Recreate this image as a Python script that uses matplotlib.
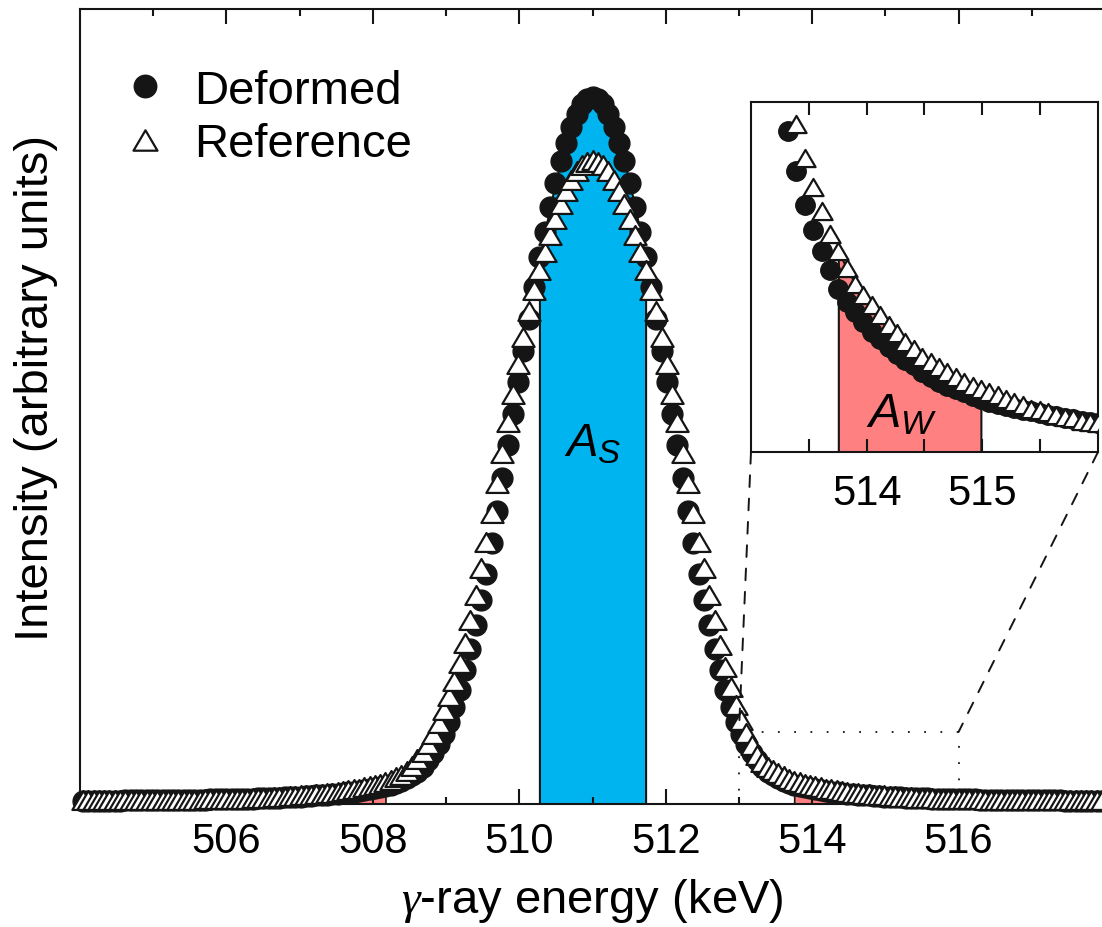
import numpy as np
import matplotlib
matplotlib.use('Agg')
import matplotlib.pyplot as plt
from matplotlib.path import Path
from matplotlib.patches import Rectangle, ConnectionPatch

plt.rcParams['font.family'] = ['Liberation Sans', 'DejaVu Sans']
plt.rcParams['mathtext.fontset'] = 'custom'
plt.rcParams['mathtext.rm'] = 'Liberation Sans'
plt.rcParams['mathtext.it'] = 'Liberation Sans:italic'
plt.rcParams['mathtext.sf'] = 'Liberation Serif:italic'

# ======================== DATA ========================
channel_start = 504.04   # keV, energy of the first channel
channel_width = 0.0725   # keV per channel

# deformed sample, intensity per channel (arb. units)
deformed = [
    0.0041, 0.0041, 0.0042, 0.0042, 0.0043, 0.0043, 0.0044, 0.0044, 0.0045, 0.0045,
    0.0046, 0.0046, 0.0047, 0.0048, 0.0048, 0.0049, 0.0050, 0.0050, 0.0051, 0.0052,
    0.0053, 0.0054, 0.0055, 0.0056, 0.0057, 0.0058, 0.0059, 0.0060, 0.0061, 0.0063,
    0.0065, 0.0067, 0.0069, 0.0071, 0.0074, 0.0076, 0.0078, 0.0081, 0.0083, 0.0086,
    0.0088, 0.0093, 0.0097, 0.0102, 0.0107, 0.0111, 0.0116, 0.0123, 0.0130, 0.0139,
    0.0146, 0.0155, 0.0164, 0.0175, 0.0185, 0.0198, 0.0212, 0.0226, 0.0244, 0.0269,
    0.0295, 0.0324, 0.0359, 0.0405, 0.046, 0.055, 0.064, 0.075, 0.088, 0.103,
    0.122, 0.144, 0.168, 0.195, 0.225, 0.256, 0.289, 0.328, 0.368, 0.410,
    0.452, 0.491, 0.531, 0.570, 0.610, 0.650, 0.688, 0.719, 0.751, 0.781,
    0.809, 0.832, 0.852, 0.868, 0.880, 0.887,
    0.889,
    0.887, 0.880, 0.868, 0.852, 0.832, 0.809, 0.781, 0.751, 0.719,
    0.688, 0.650, 0.610, 0.570, 0.531, 0.491, 0.452, 0.410, 0.368, 0.328,
    0.289, 0.256, 0.225, 0.195, 0.168, 0.144, 0.122, 0.103, 0.088, 0.075,
    0.064, 0.055, 0.046, 0.0405, 0.0359, 0.0324, 0.0295, 0.0269, 0.0244, 0.0226,
    0.0212, 0.0198, 0.0185, 0.0175, 0.0164, 0.0155, 0.0146, 0.0139, 0.0130, 0.0123,
    0.0116, 0.0111, 0.0107, 0.0102, 0.0097, 0.0093, 0.0088, 0.0086, 0.0083, 0.0081,
    0.0078, 0.0076, 0.0074, 0.0071, 0.0069, 0.0067, 0.0065, 0.0063, 0.0061, 0.0060,
    0.0059, 0.0058, 0.0057, 0.0056, 0.0055, 0.0054, 0.0053, 0.0052, 0.0051, 0.0050,
    0.0050, 0.0049, 0.0048, 0.0048, 0.0047, 0.0046, 0.0046, 0.0045, 0.0045, 0.0044,
    0.0044, 0.0043, 0.0043, 0.0042, 0.0042, 0.0041, 0.0041]

# reference sample, intensity per channel (arb. units)
reference = [
    0.0047, 0.0047, 0.0047, 0.0048, 0.0048, 0.0048, 0.0049, 0.0049, 0.0050, 0.0050,
    0.0050, 0.0051, 0.0051, 0.0052, 0.0052, 0.0053, 0.0053, 0.0054, 0.0054, 0.0055,
    0.0055, 0.0056, 0.0056, 0.0057, 0.0058, 0.0058, 0.0059, 0.0060, 0.0061, 0.0063,
    0.0066, 0.0068, 0.0071, 0.0075, 0.0077, 0.0079, 0.0084, 0.0088, 0.0093, 0.0098,
    0.0102, 0.0107, 0.0111, 0.0116, 0.0123, 0.0130, 0.0137, 0.0143, 0.0150, 0.0161,
    0.0171, 0.0183, 0.0194, 0.0208, 0.0221, 0.0235, 0.0253, 0.0276, 0.0302, 0.0334,
    0.0370, 0.042, 0.048, 0.056, 0.065, 0.076, 0.088, 0.102, 0.118, 0.136,
    0.155, 0.177, 0.202, 0.232, 0.263, 0.297, 0.330, 0.366, 0.404, 0.442,
    0.480, 0.516, 0.553, 0.588, 0.620, 0.647, 0.672, 0.694, 0.716, 0.736,
    0.755, 0.771, 0.785, 0.796, 0.804, 0.808,
    0.810,
    0.808, 0.804, 0.796, 0.785, 0.771, 0.755, 0.736, 0.716, 0.694,
    0.672, 0.647, 0.620, 0.588, 0.553, 0.516, 0.480, 0.442, 0.404, 0.366,
    0.330, 0.297, 0.263, 0.231, 0.200, 0.172, 0.147, 0.125, 0.106, 0.089,
    0.074, 0.062, 0.053, 0.0470, 0.0423, 0.0384, 0.0350, 0.0319, 0.0295, 0.0272,
    0.0251, 0.0235, 0.0221, 0.0208, 0.0194, 0.0183, 0.0171, 0.0161, 0.0150, 0.0143,
    0.0137, 0.0130, 0.0123, 0.0116, 0.0111, 0.0107, 0.0102, 0.0098, 0.0093, 0.0088,
    0.0084, 0.0079, 0.0077, 0.0075, 0.0071, 0.0068, 0.0066, 0.0063, 0.0061, 0.0060,
    0.0059, 0.0058, 0.0058, 0.0057, 0.0056, 0.0056, 0.0055, 0.0055, 0.0054, 0.0054,
    0.0053, 0.0053, 0.0052, 0.0052, 0.0051, 0.0051, 0.0050, 0.0050, 0.0050, 0.0049,
    0.0049, 0.0048, 0.0048, 0.0048, 0.0047, 0.0047, 0.0047]

s_window = [510.27, 511.73]                      # A_S region (keV)
w_windows = [[507.0, 508.18], [513.75, 515.0]]   # A_W regions (keV)
zoom_box = [513.0, 516.0, 0.0906]                # x0, x1, top of dotted box

main_xticks = [506, 508, 510, 512, 514, 516]
main_minor = [505, 507, 509, 511, 513, 515, 517]
inset_xticks = [513.5, 514, 514.5, 515, 515.5]
inset_xlabels = ['', '514', '', '515', '']

deformed = np.array(deformed)
reference = np.array(reference)
energy = channel_start + channel_width * np.arange(len(deformed))

blue = '#00b5ef'
pink = '#ff8080'
ink = '#151515'
tri = Path([(0, 0.85), (-1, -0.85), (1, -0.85), (0, 0.85)], closed=True)

# ======================== MAIN AXES ========================
fig = plt.figure(figsize=(11.02, 9.28), dpi=100)
ax = fig.add_axes([80/1102, 123/928, 1025/1102, 795/928])
ax.set_xlim(504, 518)
ax.set_ylim(0, 1)

m = (energy >= s_window[0]) & (energy <= s_window[1])
ax.fill_between(energy[m], 0, deformed[m], facecolor=blue, edgecolor=ink, lw=1.5, zorder=1)
for lo, hi in w_windows:
    m = (energy >= lo) & (energy <= hi)
    ax.fill_between(energy[m], 0, reference[m], facecolor=pink, edgecolor=ink, lw=1.2, zorder=1)

ax.add_patch(Rectangle((zoom_box[0], 0), zoom_box[1] - zoom_box[0], zoom_box[2],
                       fill=False, ec=ink, lw=1.3, ls=(0, (1, 8)), zorder=2, clip_on=False))

ax.plot(energy, deformed, ls='none', marker='o', ms=15, mfc=ink, mec=ink, mew=1,
        clip_on=False, zorder=3, label='Deformed')
ax.plot(energy, reference, ls='none', marker=tri, ms=16, mfc='white', mec=ink, mew=1.6,
        clip_on=False, zorder=4, label='Reference')

ax.text(511.0, 0.438, r'$A_S$', fontsize=34, ha='center', va='baseline', zorder=5)

ax.legend(loc='upper left', bbox_to_anchor=(0.040, 0.925), frameon=False, fontsize=34,
          handlelength=1.0, handletextpad=0.55, labelspacing=0.2, borderpad=0,
          borderaxespad=0, markerscale=1.08)

ax.set_xticks(main_xticks)
ax.set_xticks(main_minor, minor=True)
ax.tick_params(axis='x', which='both', direction='in', top=True, width=1.5,
               labelsize=30, pad=12, color=ink)
ax.tick_params(axis='x', which='major', length=11)
ax.tick_params(axis='x', which='minor', length=5)
ax.set_yticks([])
for s in ax.spines.values():
    s.set_linewidth(1.5)
    s.set_color(ink)

ax.set_xlabel(r'$\mathsf{\gamma}$-ray energy (keV)', fontsize=34, labelpad=11)
ax.set_ylabel('Intensity (arbitrary units)', fontsize=34)
ax.yaxis.set_label_coords(-0.021, 0.525)

# ======================== INSET ========================
axins = fig.add_axes([751/1102, 475/928, 347/1102, 350/928])
axins.set_xlim(zoom_box[0], zoom_box[1])
axins.set_ylim(0.002, 0.050)
lo, hi = w_windows[1]
m = (energy >= lo) & (energy <= hi)
axins.fill_between(energy[m], 0, reference[m], facecolor=pink, edgecolor=ink, lw=1.5, zorder=1)
axins.plot(energy, deformed, ls='none', marker='o', ms=14, mfc=ink, mec=ink, mew=1, zorder=3)
axins.plot(energy, reference, ls='none', marker=tri, ms=14.5, mfc='white', mec=ink, mew=1.6, zorder=4)
axins.text(514.30, 0.0056, r'$A_W$', fontsize=35, ha='center', va='baseline', zorder=5)

axins.set_xticks(inset_xticks)
axins.set_xticklabels(inset_xlabels)
axins.tick_params(axis='x', direction='in', top=True, length=9.5, width=1.5,
                  labelsize=30, pad=15, color=ink)
axins.set_yticks([])
for s in axins.spines.values():
    s.set_linewidth(1.5)
    s.set_color(ink)

# dashed lines joining the inset to the dotted box
for xa, xb in [(0, zoom_box[0]), (1, zoom_box[1])]:
    con = ConnectionPatch(xyA=(xa, 0), coordsA=axins.transAxes,
                          xyB=(xb, zoom_box[2]), coordsB=ax.transData,
                          ls=(0, (6, 6)), lw=1.4, color=ink)
    fig.add_artist(con)

fig.savefig('out.png', dpi=100)
